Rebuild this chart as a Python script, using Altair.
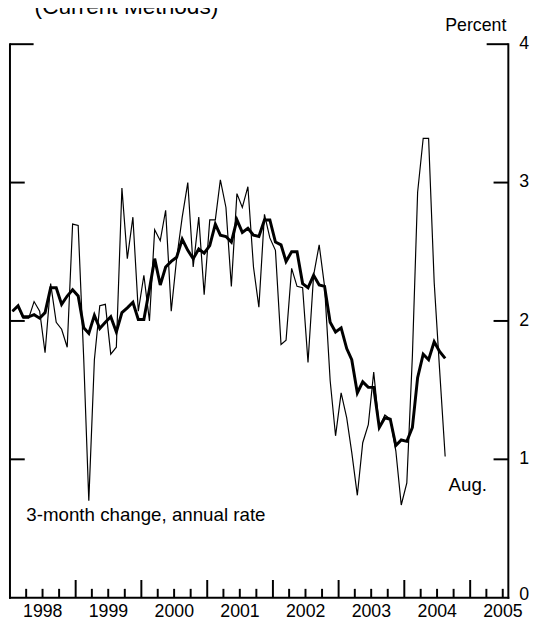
import altair as alt
import pandas as pd

# ---- data (monthly, Jan 1998 .. Aug 2004), percent ----
thin_3m = [2.07, 2.10, 2.02, 2.02, 2.14, 2.07, 1.77, 2.27, 1.99, 1.94, 1.81, 2.70,
           2.69, 1.72, 0.70, 1.72, 2.11, 2.12, 1.76, 1.81, 2.96, 2.45, 2.75, 2.07,
           2.33, 2.00, 2.66, 2.58, 2.80, 2.07, 2.45, 2.75, 3.00, 2.39, 2.75, 2.19,
           2.73, 2.73, 3.02, 2.82, 2.25, 2.92, 2.82, 2.97, 2.39, 2.10, 2.77, 2.60,
           2.51, 1.83, 1.86, 2.38, 2.25, 2.24, 1.70, 2.33, 2.55, 2.25, 1.57, 1.17,
           1.48, 1.30, 1.05, 0.74, 1.12, 1.25, 1.63, 1.23, 1.32, 1.29, 1.06, 0.67,
           0.83, 1.75, 2.93, 3.32, 3.32, 2.28, 1.65, 1.02]
thick_12m = [2.07, 2.11, 2.03, 2.03, 2.045, 2.02, 2.06, 2.24, 2.24, 2.12, 2.18, 2.225,
             2.18, 1.95, 1.91, 2.04, 1.945, 1.99, 2.03, 1.92, 2.06, 2.095, 2.135, 2.01,
             2.01, 2.23, 2.45, 2.26, 2.39, 2.43, 2.46, 2.59, 2.51, 2.45, 2.52, 2.49,
             2.545, 2.70, 2.62, 2.61, 2.57, 2.73, 2.64, 2.67, 2.62, 2.61, 2.73, 2.73,
             2.57, 2.55, 2.43, 2.50, 2.50, 2.27, 2.24, 2.33, 2.26, 2.25, 1.99, 1.92,
             1.95, 1.80, 1.72, 1.48, 1.56, 1.52, 1.52, 1.23, 1.30, 1.29, 1.10, 1.14,
             1.13, 1.23, 1.59, 1.76, 1.72, 1.85, 1.78, 1.73]
dates = [f"{1998 + i // 12}-{i % 12 + 1:02d}-15" for i in range(len(thin_3m))]

years = [1998, 1999, 2000, 2001, 2002, 2003, 2004, 2005]
y_ticks = [1, 2, 3]
y_labels = [0, 1, 2, 3, 4]

annot_text = ["3-month change, annual rate", "Aug."]
annot_date = ["1998-04-02", "2004-09-03"]
annot_val = [0.555, 0.774]

FONT = "Liberation Sans, Arial, sans-serif"
W, H = 506, 562

df = pd.DataFrame({"date": dates, "thin": thin_3m, "thick": thick_12m})

xs = alt.Scale(type="utc",
               domain=[alt.DateTime(year=1998, month=1, date=1, utc=True),
                       alt.DateTime(year=2005, month=8, date=1, utc=True)])
ys = alt.Scale(domain=[0, 4])

thin = alt.Chart(df).mark_line(color="black", strokeWidth=1.2).encode(
    x=alt.X("date:T", scale=xs, axis=None), y=alt.Y("thin:Q", scale=ys, axis=None))
thick = alt.Chart(df).mark_line(color="black", strokeWidth=3).encode(
    x=alt.X("date:T", scale=xs, axis=None), y=alt.Y("thick:Q", scale=ys, axis=None))

one = pd.DataFrame({"k": [0]})
left_ax = alt.Chart(one).mark_rule(color="black", strokeWidth=2, strokeCap="square").encode(
    x=alt.value(0), y=alt.value(0), y2=alt.value(H))
right_ax = alt.Chart(one).mark_rule(color="black", strokeWidth=2, strokeCap="square").encode(
    x=alt.value(W), y=alt.value(0), y2=alt.value(H))
bottom_ax = alt.Chart(one).mark_rule(color="black", strokeWidth=2, strokeCap="square").encode(
    x=alt.value(0), x2=alt.value(W), y=alt.value(H))

yt = pd.DataFrame({"v": y_ticks})
ytop = pd.DataFrame({"v": [4]})
lt = alt.Chart(yt).mark_rule(color="black", strokeWidth=2).encode(
    y=alt.Y("v:Q", scale=ys, axis=None), x=alt.value(0), x2=alt.value(15))
rt = alt.Chart(yt).mark_rule(color="black", strokeWidth=2).encode(
    y=alt.Y("v:Q", scale=ys, axis=None), x=alt.value(W - 15), x2=alt.value(W))
lt4 = alt.Chart(ytop).mark_rule(color="black", strokeWidth=2).encode(
    y=alt.Y("v:Q", scale=ys, axis=None), x=alt.value(0), x2=alt.value(24))
rt4 = alt.Chart(ytop).mark_rule(color="black", strokeWidth=2).encode(
    y=alt.Y("v:Q", scale=ys, axis=None), x=alt.value(W - 22), x2=alt.value(W))

major = pd.DataFrame({"d": [f"{y}-01-01" for y in years[1:]]})
minor = pd.DataFrame({"d": [f"{y}-{m:02d}-01" for y in years for m in (4, 7, 10)
                            if not (y == 2005 and m == 10)]})
maj_t = alt.Chart(major).mark_rule(color="black", strokeWidth=2).encode(
    x=alt.X("d:T", scale=xs, axis=None), y=alt.value(H), y2=alt.value(H - 18))
min_t = alt.Chart(minor).mark_rule(color="black", strokeWidth=2).encode(
    x=alt.X("d:T", scale=xs, axis=None), y=alt.value(H), y2=alt.value(H - 9))

ylab_df = pd.DataFrame({"d": [f"{y}-07-02" for y in years], "t": [str(y) for y in years]})
year_lab = alt.Chart(ylab_df).mark_text(font=FONT, fontSize=18, align="center",
                                        baseline="alphabetic", color="black").encode(
    x=alt.X("d:T", scale=xs, axis=None), y=alt.value(H + 20), text="t:N")

rl_df = pd.DataFrame({"v": y_labels, "t": [str(v) for v in y_labels]})
rlab = alt.Chart(rl_df).transform_filter("datum.v > 0").mark_text(
    font=FONT, fontSize=18, align="left", baseline="middle", color="black").encode(
    y=alt.Y("v:Q", scale=ys, axis=None), x=alt.value(W + 11), text="t:N")
rlab0 = alt.Chart(rl_df).transform_filter("datum.v == 0").mark_text(
    font=FONT, fontSize=18, align="left", baseline="middle", dy=-3, color="black").encode(
    y=alt.Y("v:Q", scale=ys, axis=None), x=alt.value(W + 11), text="t:N")

ann_df = pd.DataFrame({"d": annot_date, "v": annot_val, "t": annot_text})
ann = alt.Chart(ann_df).mark_text(font=FONT, fontSize=19, align="left",
                                  baseline="alphabetic", color="black").encode(
    x=alt.X("d:T", scale=xs, axis=None), y=alt.Y("v:Q", scale=ys, axis=None), text="t:N")

pct = alt.Chart(one).mark_text(font=FONT, fontSize=18, align="right", baseline="alphabetic",
                               color="black", text="Percent").encode(
    x=alt.value(W - 2), y=alt.value(-13))
ttl = alt.Chart(one).mark_text(font=FONT, fontSize=23, align="left", baseline="alphabetic",
                               color="black", text="(Current Methods)").encode(
    x=alt.value(25), y=alt.value(-31))

chart = alt.layer(
    left_ax, right_ax, bottom_ax, lt, rt, lt4, rt4, maj_t, min_t,
    thin, thick, year_lab, rlab, rlab0, ann, pct, ttl
).properties(
    width=W, height=H,
    padding={"left": 2, "top": 32, "right": 22, "bottom": 25},
    autosize=alt.AutoSizeParams(type="none"),
    background="white",
).configure_view(stroke=None)

chart.save("out.html", embed_options={"renderer": "svg", "actions": False})
